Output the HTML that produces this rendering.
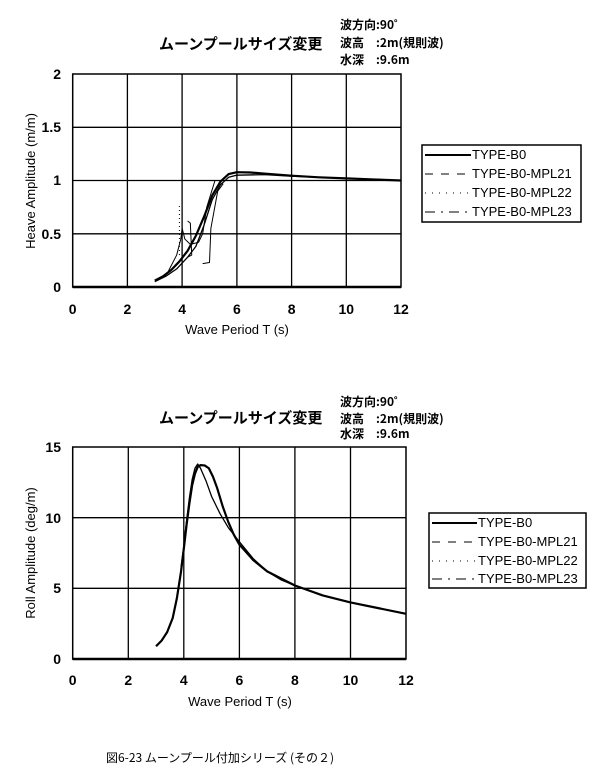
<!DOCTYPE html>
<html><head><meta charset="utf-8"><style>
body{margin:0;background:#fff;}
svg{display:block;font-family:"Liberation Sans","Noto Sans CJK JP",sans-serif;}
</style></head><body>
<svg width="600" height="777" viewBox="0 0 600 777">
<rect width="600" height="777" fill="#fff"/>
<g fill="#000" font-family="Noto Sans CJK JP, sans-serif" font-weight="bold">
<text x="159" y="49" font-size="15">ムーンプールサイズ変更</text>
<text x="340" y="29" font-size="12">波方向:90˚</text>
<text x="340" y="47" font-size="12">波高　:2m(規則波)</text>
<text x="340" y="64" font-size="12">水深　:9.6m</text>
</g>
<!-- top plot -->
<g stroke="#000" fill="none">
<rect x="72.7" y="74" width="328.3" height="213" stroke-width="1.5"/>
<g stroke-width="1.3">
<line x1="127.4" y1="74" x2="127.4" y2="287"/><line x1="182.1" y1="74" x2="182.1" y2="287"/>
<line x1="236.9" y1="74" x2="236.9" y2="287"/><line x1="291.6" y1="74" x2="291.6" y2="287"/>
<line x1="346.3" y1="74" x2="346.3" y2="287"/>
<line x1="72.7" y1="127.3" x2="401" y2="127.3"/><line x1="72.7" y1="180.5" x2="401" y2="180.5"/>
<line x1="72.7" y1="233.8" x2="401" y2="233.8"/>
</g>
<line x1="72.7" y1="287" x2="401" y2="287" stroke-width="2.5"/>
<g transform="translate(72.7,287) scale(27.36,-106.5)" stroke-linejoin="round">
<polyline vector-effect="non-scaling-stroke" stroke-width="2.2" points="3,0.06 3.3,0.1 3.6,0.16 3.9,0.24 4.2,0.34 4.5,0.48 4.8,0.66 5.1,0.86 5.4,0.99 5.7,1.06 6,1.078 6.5,1.075 7,1.065 8,1.045 9,1.03 10,1.02 11,1.01 12,1.0"/>
<polyline vector-effect="non-scaling-stroke" stroke-width="1.3" points="3,0.05 3.4,0.1 3.8,0.17 4.2,0.28 4.5,0.38 4.8,0.58 5.1,0.82 5.4,0.96 5.7,1.03 6,1.05 7,1.055 8,1.04 10,1.02 12,1.0"/>
<polyline vector-effect="non-scaling-stroke" stroke-width="1" points="3.5,0.15 3.8,0.3 3.95,0.45 4,0.55 4.1,0.45 4.3,0.4 4.6,0.42 4.75,0.5 4.9,0.75 5.2,1.0"/>
<polyline vector-effect="non-scaling-stroke" stroke-width="1" points="4.2,0.62 4.3,0.6 4.35,0.3 4.2,0.28"/>
<polyline vector-effect="non-scaling-stroke" stroke-width="1" points="4.75,0.22 5,0.23 5.05,0.55 5.3,0.9 5.5,0.97"/>
<polyline vector-effect="non-scaling-stroke" stroke-width="1" stroke-dasharray="1,3" points="3.9,0.3 3.9,0.77"/>
</g>
</g>
<g fill="#000" font-size="14" font-weight="bold">
<g text-anchor="end">
<text x="61" y="79">2</text><text x="61" y="132">1.5</text><text x="61" y="185">1</text>
<text x="61" y="239">0.5</text><text x="61" y="292">0</text>
</g>
<g text-anchor="middle">
<text x="72.7" y="314">0</text><text x="127.4" y="314">2</text><text x="182.1" y="314">4</text>
<text x="236.9" y="314">6</text><text x="291.6" y="314">8</text><text x="346.3" y="314">10</text><text x="401" y="314">12</text>
<text x="237" y="334" font-size="13" font-weight="normal">Wave Period  T (s)</text>
<text transform="translate(35,181) rotate(-90)" font-size="13" font-weight="normal">Heave Amplitude (m/m)</text>
</g>
</g>
<!-- top legend -->
<g stroke="#000" fill="none">
<rect x="422" y="145" width="159" height="77" stroke-width="1.5"/>
<line x1="425" y1="155" x2="471" y2="155" stroke-width="2"/>
<line x1="425" y1="174" x2="471" y2="174" stroke-dasharray="8,8"/>
<line x1="425" y1="193" x2="471" y2="193" stroke-dasharray="1,6"/>
<line x1="425" y1="212" x2="471" y2="212" stroke-dasharray="10,6,2,6"/>
</g>
<g fill="#000" font-size="13">
<text x="472" y="159">TYPE-B0</text><text x="472" y="178">TYPE-B0-MPL21</text>
<text x="472" y="197">TYPE-B0-MPL22</text><text x="472" y="216">TYPE-B0-MPL23</text>
</g>

<!-- bottom titles -->
<g fill="#000" font-family="Noto Sans CJK JP, sans-serif" font-weight="bold">
<text x="159" y="423" font-size="15">ムーンプールサイズ変更</text>
<text x="340" y="406" font-size="12">波方向:90˚</text>
<text x="340" y="423" font-size="12">波高　:2m(規則波)</text>
<text x="340" y="438" font-size="12">水深　:9.6m</text>
</g>
<g stroke="#000" fill="none">
<rect x="72.7" y="447" width="333.3" height="212" stroke-width="1.5"/>
<g stroke-width="1.3">
<line x1="128.3" y1="447" x2="128.3" y2="659"/><line x1="183.8" y1="447" x2="183.8" y2="659"/>
<line x1="239.4" y1="447" x2="239.4" y2="659"/><line x1="294.9" y1="447" x2="294.9" y2="659"/>
<line x1="350.5" y1="447" x2="350.5" y2="659"/>
<line x1="72.7" y1="517.7" x2="406" y2="517.7"/><line x1="72.7" y1="588.3" x2="406" y2="588.3"/>
</g>
<line x1="72.7" y1="659" x2="406" y2="659" stroke-width="2.5"/>
<g transform="translate(72.7,659) scale(27.78,-14.13)" stroke-linejoin="round">
<polyline vector-effect="non-scaling-stroke" stroke-width="2.2" points="3,0.9 3.2,1.3 3.4,1.9 3.6,2.9 3.75,4.3 3.9,6.2 4,7.8 4.1,9.5 4.2,11 4.3,12.3 4.4,13.1 4.5,13.6 4.6,13.72 4.75,13.7 4.9,13.5 5.05,12.9 5.2,12.1 5.4,10.8 5.6,9.7 5.8,8.8 6,8.1 6.5,7 7,6.2 7.5,5.7 8,5.2 9,4.5 10,4 11,3.6 12,3.2"/>
<polyline vector-effect="non-scaling-stroke" stroke-width="1.3" points="3.9,6.5 4,8 4.1,9.8 4.2,11.4 4.3,12.7 4.4,13.5 4.5,13.8 4.6,13.5 4.8,12.6 5,11.5 5.3,10.3 5.6,9.3 6,8.3 6.5,7.1 7,6.2 7.5,5.6 8,5.2"/>
</g>
</g>
<g fill="#000" font-size="14" font-weight="bold">
<g text-anchor="end">
<text x="61" y="452">15</text><text x="61" y="523">10</text><text x="61" y="593">5</text><text x="61" y="664">0</text>
</g>
<g text-anchor="middle">
<text x="72.7" y="685">0</text><text x="128.3" y="685">2</text><text x="183.8" y="685">4</text>
<text x="239.4" y="685">6</text><text x="294.9" y="685">8</text><text x="350.5" y="685">10</text><text x="406" y="685">12</text>
<text x="240" y="706" font-size="13" font-weight="normal">Wave Period  T (s)</text>
<text transform="translate(35,553) rotate(-90)" font-size="13" font-weight="normal">Roll Amplitude (deg/m)</text>
</g>
</g>
<g stroke="#000" fill="none">
<rect x="429" y="513" width="157" height="75" stroke-width="1.5"/>
<line x1="432" y1="523" x2="477" y2="523" stroke-width="2"/>
<line x1="432" y1="542" x2="477" y2="542" stroke-dasharray="8,8"/>
<line x1="432" y1="561" x2="477" y2="561" stroke-dasharray="1,6"/>
<line x1="432" y1="579" x2="477" y2="579" stroke-dasharray="10,6,2,6"/>
</g>
<g fill="#000" font-size="13">
<text x="478" y="527">TYPE-B0</text><text x="478" y="546">TYPE-B0-MPL21</text>
<text x="478" y="565">TYPE-B0-MPL22</text><text x="478" y="583">TYPE-B0-MPL23</text>
</g>
<text x="106" y="762" font-size="12" font-family="Noto Sans CJK JP, sans-serif" fill="#000">図6-23 ムーンプール付加シリーズ (その２)</text>
</svg>
</body></html>
